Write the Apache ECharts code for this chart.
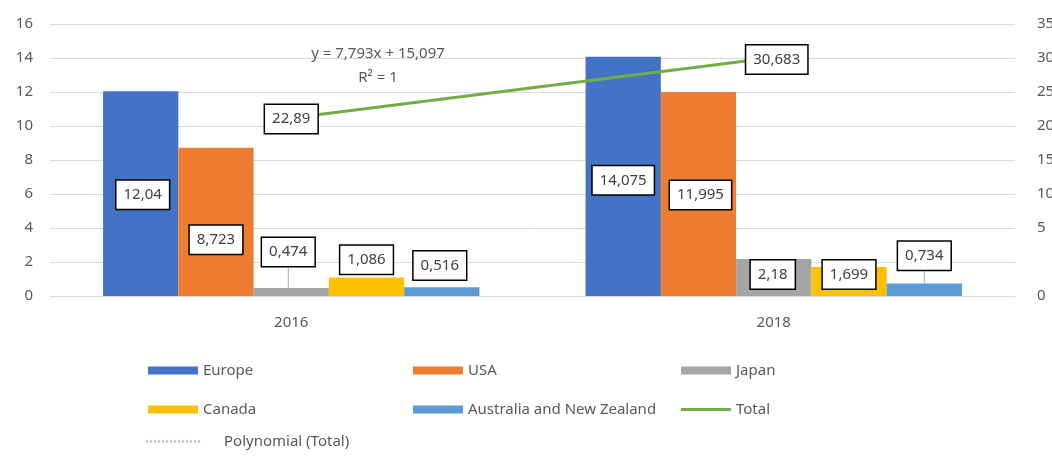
<!DOCTYPE html>
<html>
<head>
<meta charset="utf-8">
<script src="https://cdn.jsdelivr.net/npm/echarts@6/dist/echarts.min.js"></script>
<style>html,body{margin:0;padding:0;background:#fff;}#chart{width:1052px;height:459px;}</style>
</head>
<body>
<div id="chart"></div>
<script>
// ---- data ----
const categories = ['2016', '2018'];
const europe = [12.04, 14.075];
const usa = [8.723, 11.995];
const japan = [0.474, 2.18];
const canada = [1.086, 1.699];
const ausNz = [0.516, 0.734];
const total = [22.89, 30.683];
const rightTickLabels = ['0', '', '5', '10', '15', '20', '25', '30', '35'];
const trendEquation = 'y = 7,793x + 15,097';
const trendR2 = 'R\u00B2 = 1';

// ---- styling / layout config ----
const FONT = 'Noto Sans';
const labelNudge = {
  'Europe': [[2, 1], [0, 4]],
  'USA': [[0, 18], [2, 1]],
  'Japan': [[-3, -40], [-1, -3]],
  'Canada': [[0, -27], [0, -7]],
  'Australia and New Zealand': [[-2, -26], [0, -34]]
};
const leaderLines = { 'Japan': [true, false], 'Australia and New Zealand': [false, true] };

const boxLabel = {
  show: true,
  position: 'inside',
  color: '#404040',
  fontFamily: FONT,
  fontSize: 15,
  backgroundColor: '#ffffff',
  borderColor: '#000000',
  borderWidth: 1.5,
  padding: [7, 7, 6, 7],
  formatter: p => String(p.value).replace('.', ',')
};

function barSeries(name, values, color) {
  return {
    name, type: 'bar', data: values.map((v, i) => ({
      value: v,
      labelLine: { show: !!(leaderLines[name] && leaderLines[name][i]), lineStyle: { color: '#a5a5a5', width: 1 } }
    })),
    itemStyle: { color },
    barGap: '0%', barCategoryGap: '22%',
    label: boxLabel,
    labelLayout: p => { const o = labelNudge[name][p.dataIndex]; return { dx: o[0], dy: o[1] }; },
    z: 2
  };
}

const chart = echarts.init(document.getElementById('chart'), null, { renderer: 'canvas' });
const legendText = { color: '#595959', fontFamily: FONT, fontSize: 15 };
function legendAt(name, left, top, extra) {
  return Object.assign({
    data: [name], left, top, itemWidth: 50, itemHeight: 8, icon: 'rect',
    textStyle: legendText, selectedMode: false
  }, extra || {});
}

chart.setOption({
  animation: false,
  backgroundColor: '#ffffff',
  grid: { left: 50, right: 37, top: 24, bottom: 163, containLabel: false, outerBoundsMode: 'none' },
  xAxis: {
    type: 'category', data: categories,
    axisLine: { lineStyle: { color: '#d9d9d9', width: 1 } },
    axisTick: { show: false },
    axisLabel: { color: '#595959', fontFamily: FONT, fontSize: 15, margin: 19 }
  },
  yAxis: [
    {
      type: 'value', min: 0, max: 16, interval: 2,
      axisLine: { show: false }, axisTick: { show: false },
      splitLine: { lineStyle: { color: '#d9d9d9', width: 1 } },
      axisLabel: { color: '#595959', fontFamily: FONT, fontSize: 15, margin: 17 }
    },
    {
      type: 'value', position: 'right', min: 0, max: 16, interval: 2,
      axisLine: { show: false }, axisTick: { show: false }, splitLine: { show: false },
      axisLabel: { color: '#595959', fontFamily: FONT, fontSize: 15, margin: 22,
        formatter: v => rightTickLabels[Math.round(v / 2)] }
    },
    { type: 'value', position: 'right', min: 0, max: 35, show: false }
  ],
  legend: [
    legendAt('Europe', 143, 358),
    legendAt('USA', 408, 358),
    legendAt('Japan', 676, 358),
    legendAt('Canada', 143, 397),
    legendAt('Australia and New Zealand', 408, 397),
    legendAt('Total', 676, 397, { icon: 'rect', itemHeight: 3, itemStyle: { color: '#70AD47' } }),
    legendAt('Polynomial (Total)', 140, 429, { icon: null, itemWidth: 55, itemHeight: 3,
      itemStyle: { opacity: 0 },
      textStyle: Object.assign({}, legendText, { padding: [0, 0, 0, 18] }) })
  ],
  graphic: [
    { type: 'text', x: 378, y: 54, style: { text: trendEquation, fill: '#595959', font: '15px "Noto Sans"', align: 'center', verticalAlign: 'middle' }, z: 10 },
    { type: 'text', x: 378, y: 78, style: { text: trendR2, fill: '#595959', font: '15px "Noto Sans"', align: 'center', verticalAlign: 'middle' }, z: 10 }
  ],
  series: [
    barSeries('Europe', europe, '#4472C4'),
    barSeries('USA', usa, '#ED7D31'),
    barSeries('Japan', japan, '#A5A5A5'),
    barSeries('Canada', canada, '#FFC000'),
    barSeries('Australia and New Zealand', ausNz, '#5B9BD5'),
    {
      name: 'Polynomial (Total)', type: 'line', yAxisIndex: 2, data: total,
      symbol: 'none', lineStyle: { color: '#9dc383', width: 1.5, type: 'dotted' },
      itemStyle: { color: '#9dc383' }, z: 3, silent: true
    },
    {
      name: 'Total', type: 'line', yAxisIndex: 2, data: total,
      symbol: 'circle', symbolSize: 2, showSymbol: true,
      lineStyle: { color: '#70AD47', width: 3 }, itemStyle: { color: '#70AD47' },
      label: Object.assign({}, boxLabel, { position: 'inside' }),
      labelLayout: p => (p.dataIndex === 1 ? { dx: 3, dy: 2 } : { dx: 0, dy: 1 }),
      z: 4
    }
  ]
});
</script>
</body>
</html>
